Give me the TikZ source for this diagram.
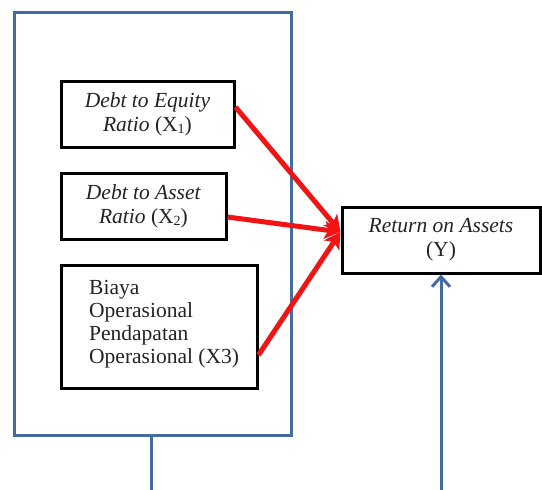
\documentclass[tikz,border=0pt]{standalone}
\usepackage{fontspec}
\setmainfont{Liberation Serif}
\usetikzlibrary{arrows.meta,calc}
\definecolor{frameblue}{RGB}{68,108,160}
\definecolor{arrowred}{RGB}{240,20,20}
\definecolor{inktext}{RGB}{35,35,35}
\newcommand{\subidx}[1]{\raisebox{-2.5pt}{\fontsize{14}{14}\selectfont #1}}
\begin{document}
\begin{tikzpicture}[x=1pt,y=-1pt,
  varbox/.style={draw=black,line width=3pt,rectangle,inner sep=0pt,
    align=center,text=inktext,font=\fontsize{21.5}{24}\selectfont},
  groupframe/.style={draw=frameblue,line width=3pt,rectangle,inner sep=0pt},
  effect/.style={draw=arrowred,line width=5pt,
    -{Stealth[length=16pt,width=18pt,inset=4pt]}},
  feedback/.style={draw=frameblue,line width=3pt,
    -{Straight Barb[length=10pt,width=18pt,line width=3pt]}}]
  \useasboundingbox (0,0) rectangle (542,490);
  \clip (0,0) rectangle (542,490);

  % grouping frame around the independent variables
  \node[groupframe,minimum width=277pt,minimum height=423pt] (frame) at (152.5,223.5) {};

  % independent variables
  \node[varbox,minimum width=173pt,minimum height=66pt] (x1) at (147.5,114)
    {\textit{Debt to Equity}\\\textit{Ratio} (X\subidx{1})};
  \node[varbox,minimum width=165pt,minimum height=66pt] (x2) at (143.5,206)
    {\textit{Debt to Asset}\\\textit{Ratio} (X\subidx{2})};
  \node[varbox,minimum width=196pt,minimum height=123pt] (x3) at (159,326.5) {};
  \node[anchor=west,inner sep=0pt,align=left,text=inktext,
    font=\fontsize{21.5}{23}\selectfont] (x3text) at (89,324)
    {Biaya\\Operasional\\Pendapatan\\Operasional (X3)};

  % dependent variable
  \node[varbox,minimum width=198pt,minimum height=66pt] (roa) at (441,240)
    {\textit{Return on Assets}\\(Y)};

  % effects of each variable on Y
  \coordinate (hit) at ($(roa.west)+(0,-8)$);
  \draw[effect] (x1.east |- 0,107) -- (hit);
  \draw[effect] (x2.east |- 0,217) -- (hit);
  \draw[effect] (x3.east |- 0,355) -- (hit);

  % simultaneous effect of the group on Y
  \coordinate (below) at (151,510);
  \draw[feedback] (frame.south -| below) -- (below) -- (below -| roa.south) -- (roa.south);
\end{tikzpicture}
\end{document}
